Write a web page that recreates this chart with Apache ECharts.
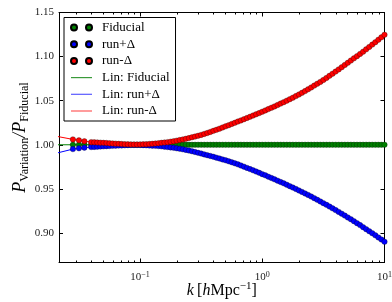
<!DOCTYPE html>
<html><head><meta charset="utf-8">
<script src="https://cdn.jsdelivr.net/npm/echarts@6/dist/echarts.min.js"></script>
<style>html,body{margin:0;padding:0;background:#fff}#c{width:392px;height:302px}</style>
</head><body><div id="c"></div>
<script>
// ---- data ----
const k = [0.0282, 0.0316, 0.0350,
  0.03981,0.04217,0.04467,0.04732,0.05012,0.05309,0.05623,0.05957,0.06310,0.06683,0.07079,0.07499,0.07943,0.08414,0.08913,0.09441,
  0.1000,0.1059,0.1122,0.1189,0.1259,0.1334,0.1413,0.1496,0.1585,0.1679,0.1778,0.1884,0.1995,0.2113,0.2239,0.2371,0.2512,0.2661,0.2818,0.2985,
  0.3162,0.3350,0.3548,0.3758,0.3981,0.4217,0.4467,0.4732,0.5012,0.5309,0.5623,0.5957,0.6310,0.6683,0.7079,0.7499,0.7943,0.8414,0.8913,0.9441,
  1.000,1.059,1.122,1.189,1.259,1.334,1.413,1.496,1.585,1.679,1.778,1.884,1.995,2.113,2.239,2.371,2.512,2.661,2.818,2.985,
  3.162,3.350,3.548,3.758,3.981,4.217,4.467,4.732,5.012,5.309,5.623,5.957,6.310,6.683,7.079,7.499,7.943,8.414,8.913,9.441,
  10.00];
const fiducial = [1,1,1,
  1,1,1,1,1,1,1,1,1,1,1,1,1,1,1,1,
  1,1,1,1,1,1,1,1,1,1,1,1,1,1,1,1,1,1,1,1,
  1,1,1,1,1,1,1,1,1,1,1,1,1,1,1,1,1,1,1,1,
  1,1,1,1,1,1,1,1,1,1,1,1,1,1,1,1,1,1,1,1,
  1,1,1,1,1,1,1,1,1,1,1,1,1,1,1,1,1,1,1,1,
  1];
const runPlus = [0.9951,0.9960,0.9967,
  0.9974,0.9976,0.9978,0.9980,0.9982,0.9984,0.9986,0.9988,0.9990,0.9991,0.9993,0.9994,0.9996,0.9997,0.9997,0.9997,
  0.9997,0.9996,0.9994,0.9992,0.9990,0.9988,0.9985,0.9982,0.9978,0.9974,0.9970,0.9965,0.9960,0.9954,0.9948,0.9942,0.9934,0.9926,0.9918,0.9909,
  0.9900,0.9891,0.9882,0.9873,0.9864,0.9854,0.9844,0.9834,0.9824,0.9813,0.9802,0.9790,0.9778,0.9765,0.9752,0.9738,0.9724,0.9710,0.9696,0.9682,
  0.9667,0.9653,0.9638,0.9623,0.9608,0.9593,0.9578,0.9563,0.9547,0.9531,0.9515,0.9499,0.9482,0.9465,0.9448,0.9431,0.9413,0.9395,0.9376,0.9357,
  0.9338,0.9319,0.9299,0.9279,0.9259,0.9239,0.9218,0.9197,0.9176,0.9155,0.9133,0.9111,0.9089,0.9066,0.9043,0.9020,0.8997,0.8973,0.8949,0.8925,
  0.8900];
const runMinus = [1.0061,1.0050,1.0040,
  1.0030,1.0028,1.0026,1.0024,1.0022,1.0020,1.0017,1.0015,1.0013,1.0011,1.0009,1.0007,1.0005,1.0004,1.0003,1.0003,
  1.0004,1.0005,1.0007,1.0009,1.0011,1.0014,1.0018,1.0022,1.0026,1.0030,1.0035,1.0041,1.0047,1.0054,1.0061,1.0068,1.0076,1.0085,1.0093,1.0102,
  1.0112,1.0123,1.0134,1.0146,1.0158,1.0170,1.0183,1.0196,1.0209,1.0222,1.0236,1.0249,1.0263,1.0276,1.0290,1.0304,1.0318,1.0332,1.0346,1.0360,
  1.0375,1.0390,1.0405,1.0420,1.0435,1.0451,1.0467,1.0483,1.0500,1.0517,1.0534,1.0552,1.0570,1.0589,1.0609,1.0629,1.0650,1.0671,1.0692,1.0713,
  1.0735,1.0758,1.0782,1.0806,1.0830,1.0855,1.0880,1.0905,1.0930,1.0955,1.0980,1.1005,1.1030,1.1056,1.1082,1.1109,1.1136,1.1163,1.1191,1.1219,
  1.1247];
// linear-theory lines continue to the left edge of the plot
const linEdgeK = 0.02;
const linEdgeFiducial = 1.0;
const linEdgePlus = 0.9900;
const linEdgeMinus = 1.0100;

const xMajorTicks = [0.1, 1, 10];
const xMinorTicks = [0.03,0.04,0.05,0.06,0.07,0.08,0.09,0.2,0.3,0.4,0.5,0.6,0.7,0.8,0.9,2,3,4,5,6,7,8,9];
const yTicks = [0.90, 0.95, 1.00, 1.05, 1.10, 1.15];
const xRange = [0.0217, 10];
const yRange = [0.8665, 1.15];

const seriesNames = ['Fiducial', 'run+Δ', 'run-Δ', 'Lin: Fiducial', 'Lin: run+Δ', 'Lin: run-Δ'];
const colors = ['#008000', '#0000ff', '#ff0000'];
const lineLegendColors = ['#3a9a3a', '#5a5aff', '#ff5a5a'];

// ---- chart ----
const SERIF = '"Liberation Serif", "DejaVu Serif", serif';
const pts = (ys) => k.map((x, i) => [x, ys[i]]);
const lin = (edge, ys) => [[linEdgeK, edge]].concat(pts(ys));

const twoDots = 'path://M0,3a3,3 0 1,0 6,0a3,3 0 1,0 -6,0zM15,3a3,3 0 1,0 6,0a3,3 0 1,0 -6,0z';
const lineIcon = 'path://M0,0M21,6M0,2.4h21v1.2h-21z';

function logAxis(extra) {
  return Object.assign({
    type: 'log', logBase: 10, min: xRange[0], max: xRange[1],
    axisLine: { show: false }, splitLine: { show: false }, splitArea: { show: false },
    axisLabel: { show: false },
    axisTick: { show: true, inside: true, length: 4, customValues: xMajorTicks, lineStyle: { color: '#000', width: 1 } }
  }, extra);
}
const xLabelFmt = (v) => {
  const e = Math.round(Math.log10(v));
  return '{b|10}{s|' + (e < 0 ? '\u2212' : '') + Math.abs(e) + '}';
};

const chart = echarts.init(document.getElementById('c'), null, { renderer: 'canvas' });
chart.setOption({
  animation: false,
  backgroundColor: '#fff',
  grid: { left: 59, right: 7.5, top: 12.5, bottom: 39.5, containLabel: false, outerBoundsMode: 'none' },
  legend: {
    orient: 'vertical', left: 64, top: 17.5,
    itemWidth: 21, itemHeight: 6, itemGap: 2.7,
    padding: [3, 6, 3, 6],
    borderColor: '#000', borderWidth: 1, backgroundColor: '#fff',
    textStyle: { fontFamily: SERIF, fontSize: 13, color: '#000', lineHeight: 14, padding: [0, 0, 0, 5] },
    data: [
      { name: seriesNames[0], icon: twoDots },
      { name: seriesNames[1], icon: twoDots },
      { name: seriesNames[2], icon: twoDots },
      { name: seriesNames[3], icon: lineIcon, itemStyle: { color: lineLegendColors[0], borderWidth: 0 } },
      { name: seriesNames[4], icon: lineIcon, itemStyle: { color: lineLegendColors[1], borderWidth: 0 } },
      { name: seriesNames[5], icon: lineIcon, itemStyle: { color: lineLegendColors[2], borderWidth: 0 } }
    ]
  },
  xAxis: [
    logAxis({
      position: 'bottom',
      axisLine: { show: true, onZero: false, lineStyle: { color: '#000', width: 1 } },
      axisLabel: {
        show: true, customValues: xMajorTicks, margin: 8, formatter: xLabelFmt,
        rich: {
          b: { fontFamily: SERIF, fontSize: 11, color: '#222', lineHeight: 14 },
          s: { fontFamily: SERIF, fontSize: 8, color: '#222', lineHeight: 8, verticalAlign: 'top' }
        }
      },
      name: '{i|k} {n|[}{i|h}{n|Mpc}{s|\u22121}{n|]}',
      nameLocation: 'middle', nameGap: 18, nameMoveOverlap: false,
      nameTextStyle: {
        rich: {
          i: { fontFamily: SERIF, fontStyle: 'italic', fontSize: 16, color: '#000', lineHeight: 20 },
          n: { fontFamily: SERIF, fontSize: 16, color: '#000', lineHeight: 20 },
          s: { fontFamily: SERIF, fontSize: 11, color: '#000', lineHeight: 10, verticalAlign: 'top' }
        }
      }
    }),
    logAxis({ position: 'bottom', axisTick: { show: true, inside: true, length: 2, customValues: xMinorTicks, lineStyle: { color: '#000', width: 1 } } }),
    logAxis({ position: 'top', axisLine: { show: true, onZero: false, lineStyle: { color: '#000', width: 1 } } }),
    logAxis({ position: 'top', axisTick: { show: true, inside: true, length: 2, customValues: xMinorTicks, lineStyle: { color: '#000', width: 1 } } })
  ],
  yAxis: [
    {
      type: 'value', min: yRange[0], max: yRange[1], position: 'left',
      axisLine: { show: true, onZero: false, lineStyle: { color: '#000', width: 1 } },
      splitLine: { show: false },
      axisTick: { show: true, inside: true, length: 4, customValues: yTicks, lineStyle: { color: '#000' } },
      axisLabel: { customValues: yTicks, margin: 5, fontFamily: SERIF, fontSize: 11, color: '#222', formatter: (v) => v.toFixed(2) },
      name: '{i|P}{s|Variation}{i|/P}{s|Fiducial}',
      nameLocation: 'middle', nameRotate: 90, nameGap: 28, nameMoveOverlap: false,
      nameTextStyle: {
        rich: {
          i: { fontFamily: SERIF, fontStyle: 'italic', fontSize: 18, color: '#000', lineHeight: 22 },
          s: { fontFamily: SERIF, fontSize: 12, color: '#000', lineHeight: 8, verticalAlign: 'bottom' }
        }
      }
    },
    {
      type: 'value', min: yRange[0], max: yRange[1], position: 'right',
      axisLine: { show: true, onZero: false, lineStyle: { color: '#000', width: 1 } },
      splitLine: { show: false },
      axisTick: { show: true, inside: true, length: 4, customValues: yTicks, lineStyle: { color: '#000' } },
      axisLabel: { show: false }
    }
  ],
  series: [
    { name: seriesNames[3], type: 'line', z: 1, data: lin(linEdgeFiducial, fiducial), showSymbol: false, symbol: 'none', color: colors[0], lineStyle: { color: colors[0], width: 1 }, clip: true },
    { name: seriesNames[4], type: 'line', z: 1, data: lin(linEdgePlus, runPlus), showSymbol: false, symbol: 'none', color: colors[1], lineStyle: { color: colors[1], width: 1 }, clip: true },
    { name: seriesNames[5], type: 'line', z: 1, data: lin(linEdgeMinus, runMinus), showSymbol: false, symbol: 'none', color: colors[2], lineStyle: { color: colors[2], width: 1 }, clip: true },
    { name: seriesNames[0], type: 'scatter', z: 2, data: pts(fiducial), symbolSize: 5.5, itemStyle: { color: colors[0], borderColor: '#000', borderWidth: 0.3, opacity: 1 }, clip: true },
    { name: seriesNames[1], type: 'scatter', z: 2, data: pts(runPlus), symbolSize: 5.5, itemStyle: { color: colors[1], borderColor: '#000', borderWidth: 0.3, opacity: 1 }, clip: true },
    { name: seriesNames[2], type: 'scatter', z: 2, data: pts(runMinus), symbolSize: 5.5, itemStyle: { color: colors[2], borderColor: '#000', borderWidth: 0.3, opacity: 1 }, clip: true }
  ]
});
</script>
</body></html>
